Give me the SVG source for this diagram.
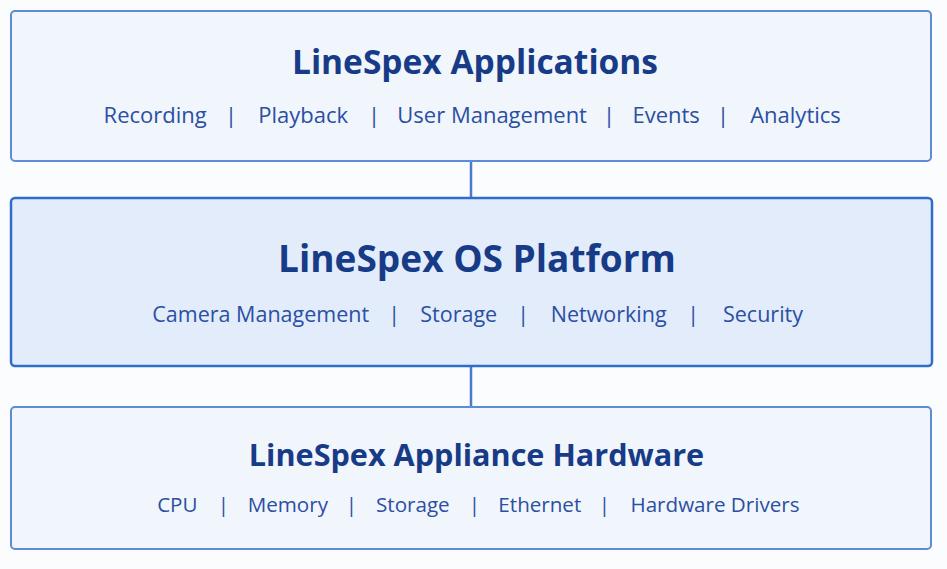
<svg xmlns="http://www.w3.org/2000/svg" width="947" height="569" viewBox="0 0 947 569">
  <style>
    .box { fill: #f1f5fc; stroke: #5d8bd5; stroke-width: 2; }
    .box-main { fill: #e2ecfa; stroke: #2f6ccc; stroke-width: 2.5; }
    .title { font-family: "Open Sans", "Noto Sans", sans-serif; font-weight: 700; fill: #173b87; text-anchor: middle; }
    .sub { font-family: "Open Sans", "Noto Sans", sans-serif; fill: #2b4fa2; text-anchor: middle; }
    .conn { stroke: #4a7bcf; stroke-width: 2.5; fill: none; }
  </style>
  <rect width="947" height="569" fill="#fbfcfe"/>
  <g id="connectors">
    <line class="conn" x1="471" y1="161" x2="471" y2="198"/>
    <line class="conn" x1="471" y1="366" x2="471" y2="407"/>
  </g>
  <g id="applications">
    <rect class="box" x="11" y="11" width="920" height="150" rx="4"/>
    <text class="title" x="475" y="74" font-size="33.5">LineSpex Applications</text>
    <text class="sub" y="123" font-size="22">
      <tspan x="158">Recording</tspan>
      <tspan x="234">|</tspan>
      <tspan x="306">Playback</tspan>
      <tspan x="377">|</tspan>
      <tspan x="495">User Management</tspan>
      <tspan x="612">|</tspan>
      <tspan x="669">Events</tspan>
      <tspan x="726">|</tspan>
      <tspan x="795.5">Analytics</tspan>
    </text>
  </g>
  <g id="os-platform">
    <rect class="box-main" x="11" y="198" width="921" height="168" rx="4"/>
    <text class="title" x="477" y="272" font-size="37">LineSpex OS Platform</text>
    <text class="sub" y="322" font-size="21.5">
      <tspan x="263.5">Camera Management</tspan>
      <tspan x="397">|</tspan>
      <tspan x="461.5">Storage</tspan>
      <tspan x="526">|</tspan>
      <tspan x="611.5">Networking</tspan>
      <tspan x="696">|</tspan>
      <tspan x="763">Security</tspan>
    </text>
  </g>
  <g id="hardware">
    <rect class="box" x="11" y="407" width="920" height="142" rx="4"/>
    <text class="title" x="476.5" y="466" font-size="30.6">LineSpex Appliance Hardware</text>
    <text class="sub" y="512" font-size="20.6">
      <tspan x="180">CPU</tspan>
      <tspan x="226">|</tspan>
      <tspan x="290.5">Memory</tspan>
      <tspan x="354">|</tspan>
      <tspan x="415.5">Storage</tspan>
      <tspan x="477">|</tspan>
      <tspan x="542.5">Ethernet</tspan>
      <tspan x="607">|</tspan>
      <tspan x="715">Hardware Drivers</tspan>
    </text>
  </g>
</svg>
